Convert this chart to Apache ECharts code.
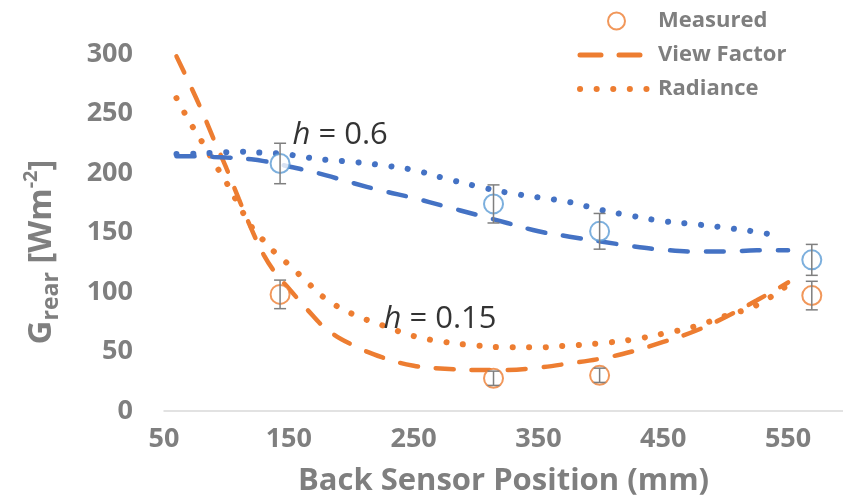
<!DOCTYPE html>
<html>
<head>
<meta charset="utf-8">
<script src="https://cdn.jsdelivr.net/npm/echarts@6/dist/echarts.min.js"></script>
<style>
  html, body { margin: 0; padding: 0; background: #fff; }
  #chart { width: 843px; height: 502px; }
</style>
</head>
<body>
<div id="chart"></div>
<script>
// model curves, x in mm
const xModel = [60,70,80,90,100,110,120,130,140,150,165,180,200,225,250,275,300,325,350,375,400,425,450,475,500,525,550];
const vfLow  = [298,276,253,228,204,178,153,131,115,103,85,69,56,45,38,35.5,34.5,34.5,36.5,40,44,50,58,67,79,93,108];
const radLow = [263,244,227,209,192,173,155,143,132,123,108,94,82,72,63,58,55,53.5,53.5,55,57,60,65,71,80,89,106];
const vfHigh = [214,214,214,213.5,213,212.5,211.5,210,208,205.5,202,198,192,185,179,172,165,158,151,146.5,142.5,138.5,135.5,134,134,135,135];
const xRadHigh = [60,70,80,90,100,110,120,130,140,150,165,180,200,225,250,275,300,325,350,375,400,425,450,475,500,525,540];
const radHigh  = [216,216,216.5,217,217.5,218,217.5,217,216.5,215.5,213,211,209.5,206.5,202.5,195.5,189,183.5,179.5,175.5,169,164,159.5,157,154,150.5,147.5];

// measurements
const xMeasured = [143, 314, 399, 569];
const measLow  = [98, 27.5, 30, 97];
const errLow   = [12, 6, 6, 12];
const measHigh = [208, 174, 151, 127];
const errHigh  = [17, 16, 15, 13];

const xTicks = [50, 150, 250, 350, 450, 550];

const ORANGE = '#ED7D31';
const BLUE = '#4472C4';
const LIGHTBLUE = '#5B9BD5';
const GREY = '#7F7F7F';
const FONT = 'Open Sans';

const pairs = (xs, ys) => xs.map((x, i) => [x, ys[i]]);
const dashed = [18, 18];
const dotted = [0.1, 16.5];

function errBars(ys, errs) {
  return {
    type: 'custom',
    silent: true,
    z: 5,
    renderItem: function (params, api) {
      const top = api.coord([api.value(0), api.value(2)]);
      const bot = api.coord([api.value(0), api.value(1)]);
      const w = 6;
      const st = { stroke: GREY, lineWidth: 1.5 };
      return {
        type: 'group',
        children: [
          { type: 'line', shape: { x1: top[0], y1: top[1], x2: bot[0], y2: bot[1] }, style: st },
          { type: 'line', shape: { x1: top[0] - w, y1: top[1], x2: top[0] + w, y2: top[1] }, style: st },
          { type: 'line', shape: { x1: bot[0] - w, y1: bot[1], x2: bot[0] + w, y2: bot[1] }, style: st }
        ]
      };
    },
    data: xMeasured.map((x, i) => [x, ys[i] - errs[i], ys[i] + errs[i]])
  };
}

function modelLine(name, xs, ys, color, type, width) {
  return {
    name: name,
    type: 'line',
    smooth: 0.4,
    symbol: 'none',
    data: pairs(xs, ys),
    lineStyle: { color: color, width: width, type: type, cap: 'round' },
    itemStyle: { color: color },
    z: 2
  };
}

const chart = echarts.init(document.getElementById('chart'));

chart.setOption({
  animation: false,
  textStyle: { fontFamily: FONT },
  grid: { left: 164, right: 0, top: 54, bottom: 88 },
  xAxis: {
    type: 'value',
    min: 50,
    max: 594,
    interval: 100,
    splitLine: { show: false },
    axisTick: { show: false },
    axisLine: { lineStyle: { color: '#D9D9D9', width: 1.5 } },
    axisLabel: {
      color: GREY, fontSize: 27, fontWeight: 'bold', margin: 15,
      showMaxLabel: false,
      formatter: v => (xTicks.indexOf(v) >= 0 ? String(v) : '')
    },
    name: 'Back Sensor Position (mm)',
    nameLocation: 'middle',
    nameGap: 55,
    nameTextStyle: { color: GREY, fontSize: 31, fontWeight: 'bold' }
  },
  yAxis: {
    type: 'value',
    min: 0,
    max: 300,
    interval: 50,
    splitLine: { show: false },
    axisTick: { show: false },
    axisLine: { show: false },
    axisLabel: { color: GREY, fontSize: 27, fontWeight: 'bold', margin: 31 }
  },
  legend: {
    orient: 'vertical',
    left: 577,
    top: 10,
    padding: 0,
    itemWidth: 73,
    itemHeight: 17,
    itemGap: 12,
    selectedMode: false,
    textStyle: { color: GREY, fontSize: 22, fontWeight: 'bold', lineHeight: 22 },
    data: [
      { name: 'Measured' },
      { name: 'View Factor', itemStyle: { opacity: 0 }, lineStyle: { width: 5, type: [21, 18], cap: 'round' } },
      { name: 'Radiance', itemStyle: { opacity: 0 }, lineStyle: { width: 6, type: dotted, cap: 'round' } }
    ]
  },
  graphic: [{
    type: 'text',
    x: 42,
    y: 252,
    rotation: Math.PI / 2,
    style: {
      text: '{g|G}{s|rear}{g| [Wm}{p|-2}{g|]}',
      align: 'center',
      verticalAlign: 'middle',
      fill: GREY,
      rich: {
        g: { fontFamily: FONT, fontSize: 33, fontWeight: 'bold', fill: GREY, lineHeight: 42 },
        s: { fontFamily: FONT, fontSize: 23, fontWeight: 'bold', fill: GREY, lineHeight: 24, verticalAlign: 'bottom' },
        p: { fontFamily: FONT, fontSize: 20, fontWeight: 'bold', fill: GREY, lineHeight: 20, verticalAlign: 'top' }
      }
    }
  }],
  series: [
    modelLine('View Factor', xModel, vfLow, ORANGE, dashed, 4.5),
    modelLine('Radiance', xModel, radLow, ORANGE, dotted, 6),
    modelLine('View Factor h=0.6', xModel, vfHigh, BLUE, dashed, 4.5),
    modelLine('Radiance h=0.6', xRadHigh, radHigh, BLUE, dotted, 6),
    {
      name: 'Measured',
      type: 'scatter',
      symbol: 'emptyCircle',
      symbolSize: 19,
      data: pairs(xMeasured, measLow),
      itemStyle: { color: ORANGE, borderColor: ORANGE, borderWidth: 1.8 },
      z: 4
    },
    {
      name: 'Measured h=0.6',
      type: 'scatter',
      symbol: 'emptyCircle',
      symbolSize: 19,
      data: pairs(xMeasured, measHigh),
      itemStyle: { color: LIGHTBLUE, borderColor: LIGHTBLUE, borderWidth: 1.8 },
      z: 4
    },
    errBars(measLow, errLow),
    errBars(measHigh, errHigh),
    {
      name: 'labels',
      type: 'scatter',
      silent: true,
      symbolSize: 1,
      itemStyle: { color: 'rgba(0,0,0,0)' },
      data: [[152.6, 231.7, 'h06'], [225.5, 77.5, 'h015']],
      label: {
        show: true,
        position: 'right',
        distance: 0,
        color: '#000',
        fontSize: 31,
        fontFamily: FONT,
        formatter: p => (p.data[2] === 'h06' ? '{i|h} = 0.6' : '{i|h} = 0.15'),
        rich: { i: { fontStyle: 'italic', fontSize: 31, fontFamily: FONT, color: '#000' } }
      },
      z: 6
    }
  ]
});
</script>
</body>
</html>
